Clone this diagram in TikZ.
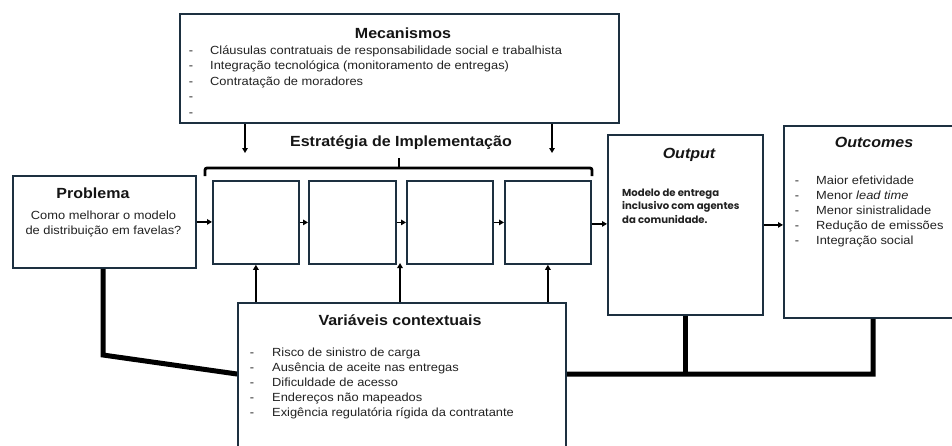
\documentclass[tikz,border=0pt]{standalone}
\usepackage{fontspec}
\setmainfont{Liberation Sans}[FakeStretch=1.09]
\newfontfamily\popfont{Poppins}
\usetikzlibrary{arrows.meta,calc}
\definecolor{boxc}{HTML}{1D3040}
\definecolor{ttlc}{HTML}{151515}
\definecolor{txtc}{HTML}{222222}
\tikzset{
  box/.style={draw=boxc, line width=1.8pt, fill=white, inner sep=0pt, anchor=north west},
  arr/.style={-{Triangle[length=5pt,width=5.5pt]}, line width=1.4pt, black},
  bus/.style={line width=5pt, black, line join=miter},
  brk/.style={line width=2.8pt, black},
  ttl/.style={font=\fontsize{14.7}{17}\selectfont\bfseries, text=ttlc, inner sep=0pt, anchor=base},
  body/.style={font=\fontsize{11.8}{15}\selectfont, text=txtc, inner sep=0pt},
  popb/.style={font=\popfont\bfseries\fontsize{10.1}{13.5}\selectfont, text=txtc, inner sep=0pt, anchor=base west},
}
\begin{document}
\begin{tikzpicture}[x=1pt, y=-1pt]
\useasboundingbox (0,0) rectangle (952,445);
\fill[white] (0,0) rectangle (952,445);

% bus coordinates
\coordinate (b1) at (103,355);
\coordinate (b2) at (237,374);
\coordinate (b3) at (873,374);

% boxes
\node[box, minimum width=439pt, minimum height=109pt] (mec) at (179,13) {};
\node[box, minimum width=183pt, minimum height=92pt] (prob) at (12,175) {};
\node[box, minimum width=86pt, minimum height=83pt] (s1) at (212,180) {};
\node[box, minimum width=87pt, minimum height=83pt] (s2) at (308,180) {};
\node[box, minimum width=86pt, minimum height=83pt] (s3) at (406,180) {};
\node[box, minimum width=86pt, minimum height=83pt] (s4) at (504,180) {};
\node[box, minimum width=155pt, minimum height=180pt] (out) at (607,134) {};
\node[box, minimum width=180pt, minimum height=192pt] (outc) at (783,125) {};

\draw[bus] (prob.south -| b1) -- (b1) -- (b2) -- (b3) -- (b3 |- outc.south);
\draw[bus] (out.south) -- (out.south |- b3);

\node[box, minimum width=328pt, minimum height=160pt] (var) at (237,302) {};

% arrows from Mecanismos
\coordinate (m1) at (245,153);
\coordinate (m2) at (552,153);
\draw[arr] (m1 |- mec.south) -- (m1);
\draw[arr] (m2 |- mec.south) -- (m2);

% bracket
\coordinate (bl) at (205,176);
\coordinate (br) at (592,176);
\coordinate (bm) at (399,168);
\coordinate (bt) at (399,158);
\draw[brk, rounded corners=2pt] (bl) |- (bm) -| (br);
\draw[brk] (bm) -- (bt);

% horizontal flow
\draw[arr] (prob.east) -- (prob.east -| s1.west);
\draw[arr] (s1.east) -- (s1.east -| s2.west);
\draw[arr] (s2.east) -- (s2.east -| s3.west);
\draw[arr] (s3.east) -- (s3.east -| s4.west);
\draw[arr] ($(s4.east)+(0,1.5)$) -- ($(s4.east -| out.west)+(0,1.5)$);
\draw[arr] (out.east) -- (out.east -| outc.west);

% arrows from contextual variables
\coordinate (u2) at (400,263);
\draw[arr] (var.north -| s1.south) -- (s1.south);
\draw[arr] (var.north -| u2) -- (u2);
\draw[arr] (var.north -| s4.south) -- (s4.south);

% titles
\node[ttl] (tmec) at (403,38) {Mecanismos};
\node[ttl] (test) at (401,146) {Estratégia de Implementação};
\node[ttl] (tprob) at (93,198) {Problema};
\node[ttl] (tout) at (689,158) {\itshape Output};
\node[ttl] (toutc) at (874,147) {\itshape Outcomes};
\node[ttl] (tvar) at (400,325) {Variáveis contextuais};

% Problema text
\node[body, anchor=base] (pb1) at (103.5,219) {Como melhorar o modelo};
\node[body, anchor=base] (pb2) at (103.5,234) {de distribuição em favelas?};

% Mecanismos list
\foreach \t [count=\i] in {{Cláusulas contratuais de responsabilidade social e trabalhista},
  {Integração tecnológica (monitoramento de entregas)},
  {Contratação de moradores}, {}, {}} {
  \node[body, anchor=base] (mecd\i) at (191,{54+15.5*(\i-1)}) {-};
  \node[body, anchor=base west] (mect\i) at (210,{54+15.5*(\i-1)}) {\t};
}

% Variaveis list
\foreach \t [count=\i] in {{Risco de sinistro de carga},
  {Ausência de aceite nas entregas},
  {Dificuldade de acesso},
  {Endereços não mapeados},
  {Exigência regulatória rígida da contratante}} {
  \node[body, anchor=base] (vard\i) at (252,{356+15*(\i-1)}) {-};
  \node[body, anchor=base west] (vart\i) at (272,{356+15*(\i-1)}) {\t};
}

% Outcomes list
\foreach \t [count=\i] in {{Maior efetividade},
  {Menor \textit{lead time}},
  {Menor sinistralidade},
  {Redução de emissões},
  {Integração social}} {
  \node[body, anchor=base] (ocd\i) at (797,{184.5+15*(\i-1)}) {-};
  \node[body, anchor=base west] (oct\i) at (816,{184.5+15*(\i-1)}) {\t};
}

% Output text
\node[popb] (ot1) at (622,196) {Modelo de entrega};
\node[popb] (ot2) at (622,209.5) {inclusivo com agentes};
\node[popb] (ot3) at (622,223) {da comunidade.};
\end{tikzpicture}
\end{document}
